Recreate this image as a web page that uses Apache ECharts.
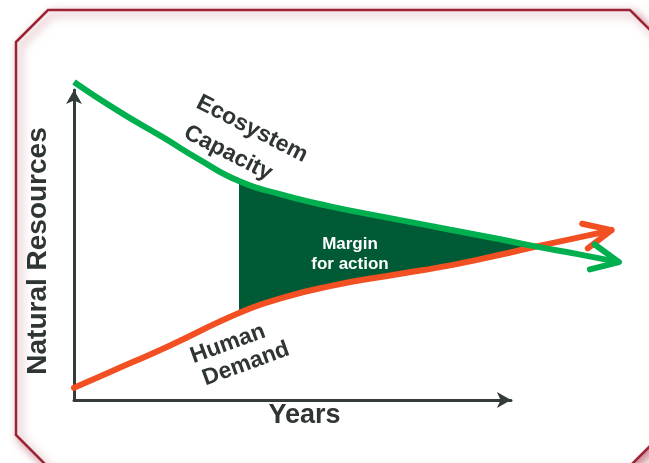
<!DOCTYPE html>
<html><head><meta charset="utf-8">
<script src="https://cdn.jsdelivr.net/npm/echarts@6/dist/echarts.min.js"></script>
<style>html,body{margin:0;padding:0;background:#fff}#c{width:649px;height:463px}</style>
</head><body><div id="c"></div>
<script>
// ---- data (abstract units: years 0..110, resources 0..100) ----
const capacityYears = [0, 9, 18, 25, 33, 41, 51, 65, 75, 85, 92, 101, 109];
const capacity      = [99.4, 90.2, 81.9, 75.2, 68.4, 64.4, 60.6, 56.3, 53.3, 50.3, 48.1, 45.5, 43.1];
const demandYears   = [0, 7, 19, 33, 41, 51, 65, 75, 85, 92, 101, 107.5];
const demand        = [3.8, 8.6, 16.9, 27.2, 31.6, 35.5, 39.4, 42.0, 45.3, 47.8, 50.8, 53.1];
const marginStart = 33, marginEnd = 92;
const capacityLabel = ['Ecosystem', 'Capacity'];
const demandLabel = ['Human', 'Demand'];
const marginLabel = 'Margin\nfor action';
const xTitle = 'Years';
const yTitle = 'Natural Resources';

// ---- derived ----
const capPairs = capacityYears.map((x, i) => [x, capacity[i]]);
const demPairs = demandYears.map((x, i) => [x, demand[i]]);
const marginYears = capacityYears.filter(x => x >= marginStart && x <= marginEnd && demandYears.includes(x));
const marginLow = marginYears.map(x => demand[demandYears.indexOf(x)]);
const marginBand = marginYears.map((x, i) => Math.max(0, capacity[capacityYears.indexOf(x)] - marginLow[i]));

const GREEN = '#00b04f', ORANGE = '#f24f22', FILL = '#005a36', INK = '#2f3535', FRAME = '#9b2335';
const FONT = '"Liberation Sans", Arial, sans-serif';
const SMOOTH = 0.55;

function arrowSeries(pairs, color, z) {
  const n = pairs.length;
  return {
    type: 'custom', xAxisIndex: 0, yAxisIndex: 0, z: z, silent: true,
    data: [[pairs[n-1][0], pairs[n-1][1], pairs[n-2][0], pairs[n-2][1]]],
    renderItem: function (params, api) {
      const tip = api.coord([api.value(0), api.value(1)]);
      const ref = api.coord([api.value(2), api.value(3)]);
      const a = Math.atan2(ref[1] - tip[1], ref[0] - tip[0]);
      const L = 30, s = 25 * Math.PI / 180;
      const p1 = [tip[0] + L * Math.cos(a + s), tip[1] + L * Math.sin(a + s)];
      const p2 = [tip[0] + L * Math.cos(a - s), tip[1] + L * Math.sin(a - s)];
      return { type: 'polyline', shape: { points: [p1, tip, p2] },
        style: { stroke: color, lineWidth: 6, fill: null, lineCap: 'round', lineJoin: 'round' } };
    }
  };
}

const chart = echarts.init(document.getElementById('c'), null, { renderer: 'canvas' });
const axisLine = { show: true, symbol: ['none', 'arrow'], symbolSize: [12, 14],
  lineStyle: { color: '#333b3b', width: 3 } };
const labelStyle = { fontFamily: FONT, fontWeight: 'bold', fontSize: 23, fill: INK, align: 'center', verticalAlign: 'middle' };

chart.setOption({
  animation: false,
  backgroundColor: '#fff',
  grid: [
    { left: 74, right: 25, top: 80, bottom: 63 },
    { left: 74, right: 138, top: 90, bottom: 63 }
  ],
  xAxis: [
    { gridIndex: 0, type: 'value', min: 0, max: 110, show: false },
    { gridIndex: 1, type: 'value', min: 0, max: 1, axisLine: axisLine,
      axisTick: { show: false }, axisLabel: { show: false }, splitLine: { show: false },
      name: xTitle, nameLocation: 'middle', nameGap: 2,
      nameTextStyle: { fontFamily: FONT, fontWeight: 'bold', fontSize: 27, color: INK, padding: [0, 0, 0, 24] } }
  ],
  yAxis: [
    { gridIndex: 0, type: 'value', min: 0, max: 100, show: false },
    { gridIndex: 1, type: 'value', min: 0, max: 1, axisLine: axisLine,
      axisTick: { show: false }, axisLabel: { show: false }, splitLine: { show: false },
      name: yTitle, nameLocation: 'middle', nameGap: 22, nameRotate: 90,
      nameTextStyle: { fontFamily: FONT, fontWeight: 'bold', fontSize: 28, color: INK, padding: [0, 12, 0, 0] } }
  ],
  series: [
    // margin band: value dimension first so the stack applies to resources, not years
    { type: 'line', xAxisIndex: 0, yAxisIndex: 0, stack: 'margin', symbol: 'none', smooth: SMOOTH,
      encode: { x: 1, y: 0 }, lineStyle: { width: 0 },
      data: marginYears.map((x, i) => [marginLow[i], x]), z: 1, silent: true },
    { type: 'line', xAxisIndex: 0, yAxisIndex: 0, stack: 'margin', symbol: 'none', smooth: SMOOTH,
      encode: { x: 1, y: 0 }, lineStyle: { width: 0 }, areaStyle: { color: FILL, opacity: 1 },
      data: marginYears.map((x, i) => [marginBand[i], x]), z: 1, silent: true },
    { type: 'line', xAxisIndex: 0, yAxisIndex: 0, symbol: 'none', smooth: SMOOTH, z: 3,
      lineStyle: { color: ORANGE, width: 6, cap: 'round' }, data: demPairs },
    arrowSeries(demPairs, ORANGE, 3),
    { type: 'line', xAxisIndex: 0, yAxisIndex: 0, symbol: 'none', smooth: SMOOTH, z: 4,
      lineStyle: { color: GREEN, width: 6, cap: 'butt' }, data: capPairs },
    arrowSeries(capPairs, GREEN, 4)
  ],
  graphic: [
    { type: 'polygon', z: -10, silent: true,
      shape: { points: [[16,42],[48,10],[630,10],[662,42],[662,434],[629,467],[48,467],[16,435]] },
      style: { fill: '#fff', stroke: FRAME, lineWidth: 2.5,
        shadowBlur: 10, shadowColor: 'rgba(160,40,55,0.55)', shadowOffsetX: 4, shadowOffsetY: 4 } },
    { type: 'text', z: 100, x: 252, y: 129, rotation: -27 * Math.PI / 180,
      style: Object.assign({ text: capacityLabel[0] }, labelStyle) },
    { type: 'text', z: 100, x: 228, y: 153, rotation: -27 * Math.PI / 180,
      style: Object.assign({ text: capacityLabel[1] }, labelStyle) },
    { type: 'text', z: 100, x: 228, y: 344, rotation: 20 * Math.PI / 180,
      style: Object.assign({ text: demandLabel[0] }, labelStyle) },
    { type: 'text', z: 100, x: 246, y: 364, rotation: 20 * Math.PI / 180,
      style: Object.assign({ text: demandLabel[1] }, labelStyle) },
    { type: 'text', z: 100, x: 350, y: 254,
      style: { text: marginLabel, fontFamily: FONT, fontWeight: 'bold', fontSize: 17, lineHeight: 20,
        fill: '#fff', align: 'center', verticalAlign: 'middle' } }
  ]
});
</script></body></html>
